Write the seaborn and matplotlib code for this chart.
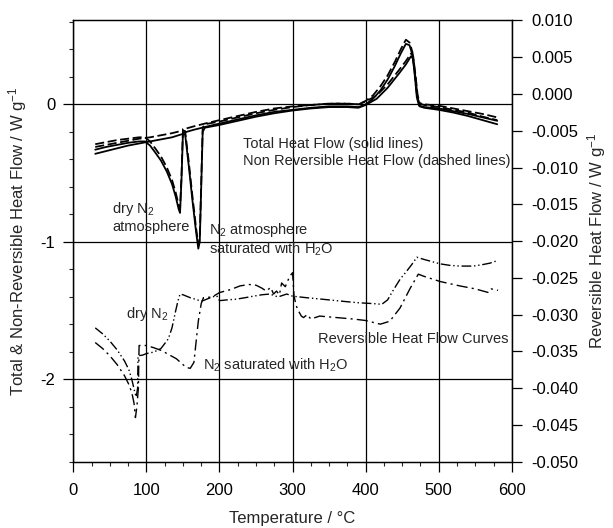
import numpy as np
import pandas as pd
import matplotlib
matplotlib.use("Agg")
import matplotlib.pyplot as plt
from matplotlib.ticker import MultipleLocator, FormatStrFormatter
import seaborn as sns

# ---------------- data ----------------
# Total / non-reversible heat flow, dry N2 atmosphere (left axis, W/g)
T_dry = [30, 45, 60, 75, 90, 98, 105, 112, 120, 128, 135, 140, 144, 146, 148, 150,
         155, 165, 180, 200, 225, 250, 275, 300, 325, 350, 375, 390, 400, 410, 420,
         430, 440, 448, 455, 460, 464, 467, 470, 473, 480, 500, 520, 540, 560, 580]
dry_total = [-0.33, -0.31, -0.295, -0.28, -0.27, -0.27, -0.30, -0.35, -0.41, -0.49, -0.58,
             -0.67, -0.76, -0.79, -0.55, -0.21, -0.20, -0.185, -0.165, -0.14, -0.11, -0.08,
             -0.055, -0.04, -0.025, -0.015, -0.015, -0.02, 0.0, 0.04, 0.10, 0.18, 0.28,
             0.37, 0.44, 0.43, 0.36, 0.22, 0.05, -0.01, -0.02, -0.03, -0.05, -0.07, -0.095,
             -0.12]
dry_nonrev = [-0.29, -0.275, -0.26, -0.25, -0.24, -0.24, -0.27, -0.32, -0.38, -0.46, -0.55,
              -0.64, -0.73, -0.76, -0.52, -0.18, -0.175, -0.16, -0.14, -0.115, -0.085,
              -0.055, -0.03, -0.015, -0.005, 0.005, 0.005, 0.0, 0.025, 0.065, 0.13, 0.21,
              0.31, 0.40, 0.47, 0.45, 0.38, 0.24, 0.07, 0.01, 0.0, -0.01, -0.03, -0.05,
              -0.07, -0.095]

# Total / non-reversible heat flow, N2 saturated with H2O
T_sat = [30, 45, 60, 75, 90, 105, 120, 135, 150, 153, 158, 163, 168, 171, 173, 175, 177,
         180, 200, 225, 250, 275, 300, 325, 350, 375, 390, 400, 415, 430, 445, 455, 462,
         465, 468, 471, 474, 480, 500, 520, 540, 560, 580]
sat_total = [-0.36, -0.34, -0.32, -0.30, -0.285, -0.27, -0.255, -0.24, -0.215, -0.22, -0.45,
             -0.70, -0.93, -1.05, -1.0, -0.6, -0.2, -0.17, -0.15, -0.12, -0.09, -0.065,
             -0.045, -0.03, -0.02, -0.02, -0.025, -0.005, 0.04, 0.12, 0.22, 0.29, 0.35,
             0.33, 0.2, 0.05, -0.015, -0.025, -0.04, -0.06, -0.085, -0.115, -0.145]
sat_nonrev = [-0.31, -0.295, -0.28, -0.265, -0.25, -0.24, -0.225, -0.21, -0.19, -0.195,
              -0.42, -0.67, -0.90, -1.02, -0.97, -0.57, -0.17, -0.145, -0.125, -0.095,
              -0.065, -0.04, -0.02, -0.005, 0.005, 0.005, 0.0, 0.02, 0.065, 0.145, 0.245,
              0.315, 0.37, 0.35, 0.22, 0.07, 0.005, -0.005, -0.02, -0.04, -0.06, -0.09,
              -0.115]

# Reversible heat flow (right axis, W/g)
T_rev_dry = [30, 40, 50, 60, 70, 76, 80, 84, 86, 88, 88.5, 95, 100, 110, 120, 130, 135,
             140, 143, 146, 150, 160, 170, 175, 185, 196, 200, 210, 223, 235, 246, 258,
             269, 280, 292, 300, 310, 319, 340, 360, 380, 392, 410, 422, 430, 437, 447,
             456, 463, 470, 480, 502, 515, 529, 547, 560, 570, 579]
rev_dry = [-0.0318, -0.0326, -0.0336, -0.0348, -0.0363, -0.0375, -0.0388, -0.0405,
           -0.0412, -0.0400, -0.0356, -0.0355, -0.0353, -0.0351, -0.0346, -0.0333,
           -0.0318, -0.0295, -0.0282, -0.0272, -0.0273, -0.0277, -0.0280, -0.0282,
           -0.0278, -0.0274, -0.0281, -0.0280, -0.0279, -0.0277, -0.0275, -0.0273,
           -0.0272, -0.0276, -0.0272, -0.0275, -0.0276, -0.0277, -0.0279, -0.0281,
           -0.0283, -0.0284, -0.0285, -0.0286, -0.0280, -0.0268, -0.0252, -0.0241,
           -0.0232, -0.0222, -0.0225, -0.0231, -0.0233, -0.0234, -0.0234, -0.0232,
           -0.0230, -0.0227]

T_rev_sat = [30, 40, 50, 60, 70, 76, 80, 83, 85, 87, 89, 90, 100, 110, 121, 130, 141, 150,
             155, 160, 165, 171, 175, 178, 190, 200, 215, 228, 240, 250, 258, 264, 270,
             274, 278, 282, 285, 290, 296, 300, 302, 305, 308, 312, 315, 320, 325, 337,
             360, 383, 400, 420, 433, 447, 461, 472, 480, 502, 529, 550, 568, 572, 581]
rev_sat = [-0.0338, -0.0346, -0.0356, -0.0368, -0.0383, -0.0395, -0.0406, -0.0420,
           -0.0440, -0.0425, -0.0400, -0.0342, -0.0342, -0.0345, -0.0349, -0.0354,
           -0.0360, -0.0368, -0.0372, -0.0373, -0.0365, -0.0309, -0.0285, -0.0277,
           -0.0276, -0.0270, -0.0266, -0.0261, -0.0259, -0.0260, -0.0264, -0.0268,
           -0.0263, -0.0272, -0.0268, -0.0273, -0.0257, -0.0262, -0.0248, -0.0243,
           -0.0275, -0.0288, -0.0295, -0.0302, -0.0304, -0.0300, -0.0306, -0.0302,
           -0.0304, -0.0306, -0.0308, -0.0313, -0.0309, -0.0291, -0.0264, -0.0245,
           -0.0248, -0.0255, -0.0261, -0.0265, -0.0270, -0.0265, -0.0267]

# ---------------- style ----------------
sns.set_style("white")
plt.rcParams['font.family'] = ['Liberation Sans', 'DejaVu Sans']
plt.rcParams['mathtext.default'] = 'regular'
plt.rcParams['axes.unicode_minus'] = False

fig = plt.figure(figsize=(6.13, 5.28), dpi=100)
ax = fig.add_axes([0.1196, 0.1256, 0.7154, 0.8356])
ax2 = ax.twinx()

upper = [
    (T_dry, dry_total, '-'),
    (T_dry, dry_nonrev, (0, (5, 2))),
    (T_sat, sat_total, '-'),
    (T_sat, sat_nonrev, (0, (5, 2))),
]
for xs, ys, ls in upper:
    df = pd.DataFrame({'T': xs, 'v': ys})
    sns.lineplot(data=df, x='T', y='v', ax=ax, color='black', lw=1.3,
                 linestyle=ls, sort=False, estimator=None)

lower = [
    (T_rev_dry, rev_dry, (0, (7, 2, 1, 2, 1, 2))),
    (T_rev_sat, rev_sat, (0, (8, 3, 1.5, 3))),
]
for xs, ys, ls in lower:
    df = pd.DataFrame({'T': xs, 'v': ys})
    sns.lineplot(data=df, x='T', y='v', ax=ax2, color='black', lw=1.0,
                 linestyle=ls, sort=False, estimator=None)

# ---------------- axes ----------------
ax.set_xlim(0, 600)
ax.set_ylim(-2.6, 0.61)
ax2.set_ylim(-0.05, 0.01)

ax.xaxis.set_major_locator(MultipleLocator(100))
ax.xaxis.set_minor_locator(MultipleLocator(25))
ax.yaxis.set_major_locator(MultipleLocator(1))
ax.yaxis.set_minor_locator(MultipleLocator(0.2))
ax.yaxis.set_major_formatter(FormatStrFormatter('%d'))
ax2.yaxis.set_major_locator(MultipleLocator(0.005))
ax2.yaxis.set_major_formatter(FormatStrFormatter('%.3f'))

for a in (ax, ax2):
    for s in a.spines.values():
        s.set_color('black')
        s.set_linewidth(0.9)
ax.tick_params(axis='both', which='major', direction='out', length=7, width=0.9,
               labelsize=12, pad=6, colors='black')
ax.tick_params(axis='x', which='major', pad=8)
ax.tick_params(axis='both', which='minor', direction='out', length=3, width=0.8)
ax.tick_params(axis='x', which='both', bottom=True)
ax.tick_params(axis='y', which='both', left=True)
ax2.tick_params(axis='y', which='major', direction='out', length=7, width=0.9,
                labelsize=12, pad=7, right=True, colors='black')

ax.grid(True, which='major', color='black', lw=0.9)
ax2.grid(False)
ax.set_axisbelow(True)

ax.set_xlabel('Temperature / °C', fontsize=12, labelpad=10)
ax.set_ylabel('Total & Non-Reversible Heat Flow / W g$^{-1}$', fontsize=12, labelpad=8)
ax2.set_ylabel('Reversible Heat Flow / W g$^{-1}$', fontsize=12, labelpad=5)

# ---------------- annotations ----------------
fs = 10.5
ax.text(232, -0.29, 'Total Heat Flow (solid lines)', fontsize=fs, va='center', ha='left')
ax.text(232, -0.41, 'Non Reversible Heat Flow (dashed lines)', fontsize=fs, va='center', ha='left')
ax.text(53, -0.793, 'dry N$_2$', fontsize=fs, va='baseline', ha='left')
ax.text(53, -0.924, 'atmosphere', fontsize=fs, va='baseline', ha='left')
ax.text(186, -0.94, 'N$_2$ atmosphere', fontsize=fs, va='baseline', ha='left')
ax.text(186, -1.084, 'saturated with H$_2$O', fontsize=fs, va='baseline', ha='left')
ax.text(72, -1.556, 'dry N$_2$', fontsize=fs, va='baseline', ha='left')
ax.text(178, -1.927, 'N$_2$ saturated with H$_2$O', fontsize=fs, va='baseline', ha='left')
ax.text(335, -1.738, 'Reversible Heat Flow Curves', fontsize=fs, va='baseline', ha='left')

fig.savefig('out.png', dpi=100)
